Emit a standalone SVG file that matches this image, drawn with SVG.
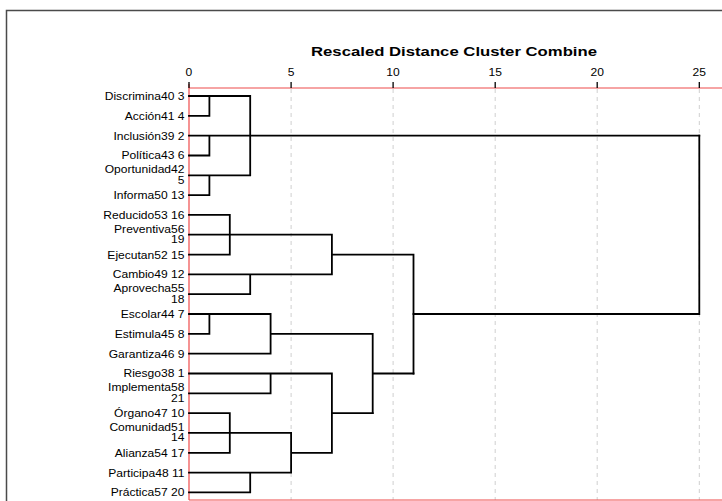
<svg xmlns="http://www.w3.org/2000/svg" width="722" height="501" viewBox="0 0 722 501">
<style>
.lbl{font-family:"Liberation Sans",Arial,sans-serif;font-size:10.5px;fill:#000;text-anchor:end}
.num{font-family:"Liberation Sans",Arial,sans-serif;font-size:10.5px;fill:#000;text-anchor:middle}
.title{font-family:"Liberation Sans",Arial,sans-serif;font-size:13.5px;font-weight:bold;fill:#000}
.grid{stroke:#cfcfcf;stroke-width:1;stroke-dasharray:4 4;fill:none}
.red{stroke:#ee4b4b;stroke-width:1.2;fill:none}
.tick{stroke:#000;stroke-width:1.3}
.con{stroke:#000;stroke-width:1.8;fill:none;stroke-linecap:square}
</style>
<rect x="0" y="0" width="722" height="501" fill="#fff"/>
<path d="M6.5,501 V10.5 H722" fill="none" stroke="#4a4a4a" stroke-width="1.5"/>
<text class="title" x="311" y="56" textLength="286" lengthAdjust="spacingAndGlyphs">Rescaled Distance Cluster Combine</text>
<g id="grid">
<line class="grid" x1="291.1" y1="89" x2="291.1" y2="500"/>
<line class="grid" x1="393.1" y1="89" x2="393.1" y2="500"/>
<line class="grid" x1="495.2" y1="89" x2="495.2" y2="500"/>
<line class="grid" x1="597.2" y1="89" x2="597.2" y2="500"/>
<line class="grid" x1="699.3" y1="89" x2="699.3" y2="500"/>
</g>
<g id="axis">
<path class="red" d="M189,88 H722 M189,84 V500 M189,500 H722"/>
<line class="tick" x1="189" y1="82" x2="189" y2="88"/>
<line class="tick" x1="291.1" y1="82" x2="291.1" y2="88"/>
<line class="tick" x1="393.1" y1="82" x2="393.1" y2="88"/>
<line class="tick" x1="495.2" y1="82" x2="495.2" y2="88"/>
<line class="tick" x1="597.2" y1="82" x2="597.2" y2="88"/>
<line class="tick" x1="699.3" y1="82" x2="699.3" y2="88"/>
<g transform="scale(1.15,1)">
<text class="num" x="164.3" y="76.5">0</text>
<text class="num" x="253.1" y="76.5">5</text>
<text class="num" x="341.8" y="76.5">10</text>
<text class="num" x="430.6" y="76.5">15</text>
<text class="num" x="519.3" y="76.5">20</text>
<text class="num" x="608.1" y="76.5">25</text>
</g>
</g>
<g id="connectors">
<path class="con" d="M189,96 H250.2 M189,115.8 H209.4 V96 M189,135.6 H699.3 M189,155.5 H209.4 V135.6 M189,175.3 H250.2 M189,195.1 H209.4 V175.3 M250.2,96 V175.3"/>
<path class="con" d="M189,214.9 H229.8 V254.6 H189 M189,234.7 H331.9 M189,274.4 H331.9 M189,294.2 H250.2 V274.4 M331.9,234.7 V274.4 M331.9,254.6 H413.5 M413.5,254.6 V373.5"/>
<path class="con" d="M189,314 H270.6 M189,333.8 H209.4 V314 M189,353.7 H270.6 M270.6,314 V353.7 M270.6,333.8 H372.7 M372.7,333.8 V413.1 M372.7,373.5 H413.5 M413.5,314 H699.3 M699.3,135.6 V314"/>
<path class="con" d="M189,373.5 H331.9 M189,393.3 H270.6 V373.5 M189,413.1 H229.8 V452.8 H189 M189,432.9 H291.1 M189,472.6 H291.1 M189,492.4 H250.2 V472.6 M291.1,432.9 V472.6 M291.1,452.8 H331.9 M331.9,373.5 V452.8 M331.9,413.1 H372.7"/>
</g>
<g id="labels" transform="scale(1.15,1)">
<g id="n3"><text class="lbl" x="160.4" y="100">Discrimina40 3</text></g>
<g id="n4"><text class="lbl" x="160.4" y="119.8">Acción41 4</text></g>
<g id="n2"><text class="lbl" x="160.4" y="139.6">Inclusión39 2</text></g>
<g id="n6"><text class="lbl" x="160.4" y="159.5">Política43 6</text></g>
<g id="n5"><text class="lbl" x="160.4" y="173.3">Oportunidad42</text><text class="lbl" x="160.4" y="183.8">5</text></g>
<g id="n13"><text class="lbl" x="160.4" y="199.1">Informa50 13</text></g>
<g id="n16"><text class="lbl" x="160.4" y="218.9">Reducido53 16</text></g>
<g id="n19"><text class="lbl" x="160.4" y="232.7">Preventiva56</text><text class="lbl" x="160.4" y="243.2">19</text></g>
<g id="n15"><text class="lbl" x="160.4" y="258.6">Ejecutan52 15</text></g>
<g id="n12"><text class="lbl" x="160.4" y="278.4">Cambio49 12</text></g>
<g id="n18"><text class="lbl" x="160.4" y="292.2">Aprovecha55</text><text class="lbl" x="160.4" y="302.7">18</text></g>
<g id="n7"><text class="lbl" x="160.4" y="318">Escolar44 7</text></g>
<g id="n8"><text class="lbl" x="160.4" y="337.8">Estimula45 8</text></g>
<g id="n9"><text class="lbl" x="160.4" y="357.7">Garantiza46 9</text></g>
<g id="n1"><text class="lbl" x="160.4" y="377.5">Riesgo38 1</text></g>
<g id="n21"><text class="lbl" x="160.4" y="391.3">Implementa58</text><text class="lbl" x="160.4" y="401.8">21</text></g>
<g id="n10"><text class="lbl" x="160.4" y="417.1">Órgano47 10</text></g>
<g id="n14"><text class="lbl" x="160.4" y="430.9">Comunidad51</text><text class="lbl" x="160.4" y="441.4">14</text></g>
<g id="n17"><text class="lbl" x="160.4" y="456.8">Alianza54 17</text></g>
<g id="n11"><text class="lbl" x="160.4" y="476.6">Participa48 11</text></g>
<g id="n20"><text class="lbl" x="160.4" y="496.4">Práctica57 20</text></g>
</g>
</svg>
